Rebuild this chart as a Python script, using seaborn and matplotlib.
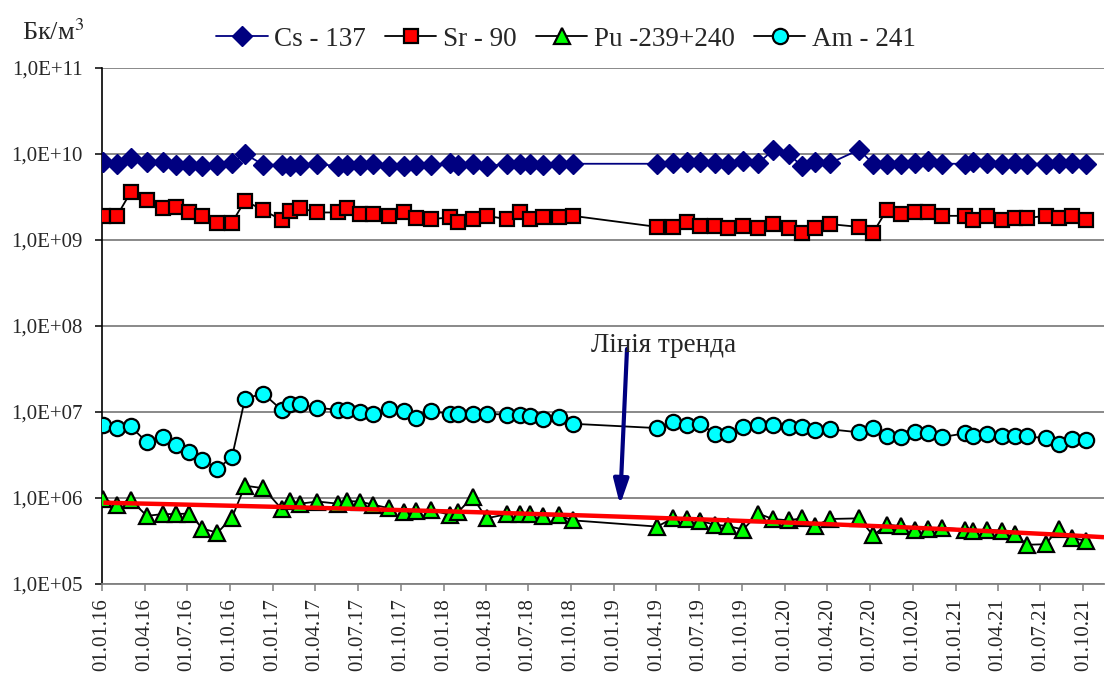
import numpy as np
import pandas as pd
import matplotlib
matplotlib.use("Agg")
import matplotlib.pyplot as plt
import matplotlib.dates as mdates
from matplotlib.ticker import FixedLocator, FuncFormatter, NullLocator
import seaborn as sns

# Sampling dates (dd.mm.yyyy)
dates = [
    "04.01.2016", "02.02.2016", "02.03.2016", "06.04.2016", "10.05.2016", "07.06.2016",
    "06.07.2016", "03.08.2016", "04.09.2016", "05.10.2016", "02.11.2016", "11.12.2016",
    "20.01.2017", "06.02.2017", "28.02.2017", "06.04.2017", "19.05.2017", "08.06.2017",
    "05.07.2017", "02.08.2017", "06.09.2017", "09.10.2017", "03.11.2017", "06.12.2017",
    "14.01.2018", "01.02.2018", "04.03.2018", "03.04.2018", "16.05.2018", "14.06.2018",
    "05.07.2018", "02.08.2018", "04.09.2018", "04.10.2018",
    "03.04.2019", "06.05.2019", "05.06.2019", "03.07.2019", "05.08.2019", "02.09.2019",
    "04.10.2019", "05.11.2019", "06.12.2019",
    "09.01.2020", "06.02.2020", "05.03.2020", "06.04.2020", "08.06.2020", "08.07.2020",
    "06.08.2020", "05.09.2020", "05.10.2020", "03.11.2020", "02.12.2020",
    "20.01.2021", "07.02.2021", "08.03.2021", "09.04.2021", "08.05.2021", "02.06.2021",
    "12.07.2021", "09.08.2021", "07.09.2021", "06.10.2021",
]

# Volumetric activity, Bq/m3
cs137 = [
    8.0e9, 7.7e9, 9.0e9, 8.0e9, 8.0e9, 7.5e9, 7.5e9, 7.2e9, 7.5e9, 7.9e9, 1.0e10, 7.5e9,
    7.5e9, 7.3e9, 7.5e9, 7.7e9, 7.2e9, 7.5e9, 7.5e9, 7.7e9, 7.3e9, 7.2e9, 7.5e9, 7.5e9,
    7.9e9, 7.5e9, 7.7e9, 7.2e9, 7.7e9, 7.7e9, 7.7e9, 7.5e9, 7.7e9, 7.7e9,
    7.7e9, 7.8e9, 8.0e9, 8.1e9, 7.8e9, 7.7e9, 8.4e9, 7.8e9, 1.1e10,
    1.0e10, 7.3e9, 8.0e9, 7.8e9, 1.12e10, 7.7e9, 7.7e9, 7.7e9, 7.8e9, 8.2e9, 7.7e9,
    7.7e9, 8.0e9, 7.8e9, 7.7e9, 7.8e9, 7.7e9, 7.7e9, 7.8e9, 7.8e9, 7.7e9,
]
sr90 = [
    1.91e9, 1.91e9, 3.57e9, 2.91e9, 2.35e9, 2.43e9, 2.09e9, 1.91e9, 1.59e9, 1.59e9, 2.86e9, 2.22e9,
    1.70e9, 2.18e9, 2.35e9, 2.09e9, 2.09e9, 2.35e9, 2.00e9, 2.00e9, 1.91e9, 2.14e9, 1.80e9, 1.75e9,
    1.83e9, 1.63e9, 1.75e9, 1.91e9, 1.75e9, 2.09e9, 1.75e9, 1.83e9, 1.83e9, 1.91e9,
    1.42e9, 1.42e9, 1.64e9, 1.46e9, 1.46e9, 1.37e9, 1.46e9, 1.37e9, 1.53e9,
    1.37e9, 1.22e9, 1.37e9, 1.53e9, 1.42e9, 1.22e9, 2.22e9, 2.00e9, 2.14e9, 2.14e9, 1.91e9,
    1.91e9, 1.70e9, 1.91e9, 1.70e9, 1.80e9, 1.80e9, 1.91e9, 1.80e9, 1.91e9, 1.70e9,
]
pu239_240 = [
    9.7e5, 8.4e5, 9.5e5, 6.2e5, 6.5e5, 6.5e5, 6.6e5, 4.4e5, 3.95e5, 5.9e5, 1.39e6, 1.30e6,
    7.4e5, 9.3e5, 8.6e5, 9.1e5, 8.6e5, 9.2e5, 9.1e5, 8.4e5, 7.6e5, 6.8e5, 7.1e5, 7.2e5,
    6.4e5, 6.9e5, 1.02e6, 5.8e5, 6.5e5, 6.6e5, 6.5e5, 6.2e5, 6.3e5, 5.5e5,
    4.65e5, 5.8e5, 5.7e5, 5.4e5, 4.9e5, 4.7e5, 4.3e5, 6.6e5, 5.7e5,
    5.5e5, 5.8e5, 4.7e5, 5.7e5, 5.8e5, 3.67e5, 4.9e5, 4.7e5, 4.3e5, 4.4e5, 4.5e5,
    4.3e5, 4.17e5, 4.3e5, 4.15e5, 3.78e5, 2.86e5, 2.9e5, 4.4e5, 3.4e5, 3.2e5,
]
am241 = [
    6.98e6, 6.5e6, 6.8e6, 4.46e6, 5.1e6, 4.15e6, 3.47e6, 2.77e6, 2.2e6, 2.98e6, 1.43e7, 1.64e7,
    1.05e7, 1.25e7, 1.23e7, 1.12e7, 1.06e7, 1.06e7, 1.0e7, 9.55e6, 1.07e7, 1.02e7, 8.5e6, 1.02e7,
    9.55e6, 9.4e6, 9.55e6, 9.55e6, 9.3e6, 9.15e6, 8.9e6, 8.2e6, 8.75e6, 7.3e6,
    6.5e6, 7.6e6, 6.98e6, 7.3e6, 5.57e6, 5.57e6, 6.7e6, 6.98e6, 6.98e6,
    6.7e6, 6.7e6, 6.1e6, 6.3e6, 5.8e6, 6.5e6, 5.3e6, 5.1e6, 5.8e6, 5.7e6, 5.1e6,
    5.65e6, 5.3e6, 5.57e6, 5.3e6, 5.3e6, 5.2e6, 4.97e6, 4.26e6, 4.9e6, 4.67e6,
]

series_labels = ["Cs - 137", "Sr - 90", "Pu -239+240", "Am - 241"]
y_unit = "Бк/м$^{3}$"
trend_label = "Лінія тренда"
x_start, x_end = "2016-01-01", "2021-11-14"

sns.set_theme(style="white")
plt.rcParams["font.family"] = ["Liberation Serif", "DejaVu Serif"]
plt.rcParams["mathtext.fontset"] = "stix"

W, H = 1105, 677
fig = plt.figure(figsize=(W / 100, H / 100), dpi=100)
ax = fig.add_axes([102 / W, 1 - 584 / H, 1002 / W, 516 / H])

d = pd.to_datetime(dates, format="%d.%m.%Y")

common = dict(ax=ax, estimator=None, sort=False, lw=1.3)
sns.lineplot(x=d, y=cs137, color="#000080", marker="D", markersize=10,
             markerfacecolor="#000080", markeredgecolor="#000080", markeredgewidth=1,
             label=series_labels[0], zorder=3, **common)
sns.lineplot(x=d, y=sr90, color="black", marker="s", markersize=10.6,
             markerfacecolor="#FF0000", markeredgecolor="black", markeredgewidth=1.6,
             label=series_labels[1], zorder=3, **common)
sns.lineplot(x=d, y=pu239_240, color="black", marker="^", markersize=12,
             markerfacecolor="#00FF00", markeredgecolor="black", markeredgewidth=1.6,
             label=series_labels[2], zorder=3, **common)
sns.lineplot(x=d, y=am241, color="black", marker="o", markersize=11,
             markerfacecolor="#00FFFF", markeredgecolor="black", markeredgewidth=1.6,
             label=series_labels[3], zorder=3, **common)

# Linear trend of the Pu-239+240 activity
t_days = (d - d[0]).days.values.astype(float)
coef = np.polyfit(t_days, np.array(pu239_240), 1)
trend_dates = pd.date_range(d[0], pd.Timestamp(x_end), periods=200)
trend_vals = np.polyval(coef, (trend_dates - d[0]).days.values.astype(float))
ax.plot(trend_dates, trend_vals, color="#FF0000", lw=3.2, zorder=5, solid_capstyle="butt")

# Axes
ax.set_yscale("log")
ax.set_ylim(1e5, 1e11)
ax.set_xlim(pd.Timestamp(x_start), pd.Timestamp(x_end))
ax.yaxis.set_major_locator(FixedLocator([10.0 ** k for k in range(5, 12)]))
ax.yaxis.set_minor_locator(NullLocator())
ax.yaxis.set_major_formatter(FuncFormatter(lambda v, p: "1,0E+{:02d}".format(int(round(np.log10(v))))))
ax.xaxis.set_major_locator(mdates.MonthLocator(bymonth=[1, 4, 7, 10], bymonthday=1))
ax.xaxis.set_major_formatter(mdates.DateFormatter("%d.%m.%y"))
ax.xaxis.set_minor_locator(NullLocator())

ax.grid(axis="y", color="#808080", lw=1.3)
ax.grid(axis="x", visible=False)
ax.set_axisbelow(True)
for s in ("top", "right"):
    ax.spines[s].set_visible(False)
ax.spines["left"].set_color("black")
ax.spines["left"].set_linewidth(1.2)
ax.spines["bottom"].set_color("#808080")
ax.spines["bottom"].set_linewidth(1.3)
ax.tick_params(axis="y", which="major", direction="out", length=5, width=1.1,
               color="black", labelsize=15, pad=9, left=True)
ax.tick_params(axis="x", which="major", direction="out", length=5, width=1.1,
               color="#808080", labelsize=15, pad=5, bottom=True, labelrotation=90)
for lab in ax.get_xticklabels():
    lab.set_verticalalignment("top")
ax.set_xlabel("")
ax.set_ylabel("")

# Legend across the top
handles, labels = ax.get_legend_handles_labels()
if ax.get_legend() is not None:
    ax.get_legend().remove()
fig.legend(handles, labels, loc="center", bbox_to_anchor=(566 / W, 1 - 39 / H), ncol=4,
           frameon=False, fontsize=19.5, handlelength=1.9, handletextpad=0.25,
           columnspacing=0.7, borderaxespad=0)

# Unit caption
fig.text(22 / W, 1 - 40 / H, y_unit, fontsize=19, ha="left", va="baseline")

# Trend annotation
fig.text(664 / W, 1 - 352 / H, trend_label, fontsize=19.5, ha="center", va="baseline")
ax.annotate("", xy=(620 / W, 1 - 505 / H), xycoords="figure fraction",
            xytext=(627 / W, 1 - 349 / H), textcoords="figure fraction",
            arrowprops=dict(arrowstyle="-|>,head_length=1.5,head_width=0.45",
                            mutation_scale=10, color="#000080", lw=3,
                            shrinkA=0, shrinkB=0),
            zorder=6)

fig.savefig("out.png", dpi=100)
